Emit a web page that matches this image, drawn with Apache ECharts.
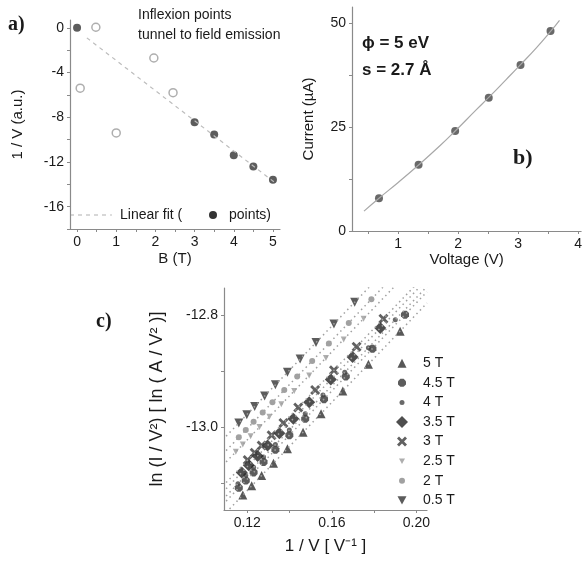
<!DOCTYPE html>
<html>
<head>
<meta charset="utf-8">
<script src="https://cdn.jsdelivr.net/npm/echarts@6/dist/echarts.min.js"></script>
<style>
  html, body { margin: 0; background: #fff; }
  #main { width: 585px; height: 562px; }
</style>
</head>
<body>
<div id="main"></div>
<script>
// a) 1/V vs B
const aFilled = [[0, 0], [3, -8.45], [3.5, -9.55], [4, -11.4], [4.5, -12.4], [5, -13.6]]
const aOpen = [[0.08, -5.4], [0.48, 0.05], [1, -9.4], [1.96, -2.7], [2.45, -5.8]]
const aFit = [[0.25, -0.9], [5.05, -13.85]]
const aXLabels = [0, 1, 2, 3, 4, 5]
const aXTicks = [0, 0.5, 1, 1.5, 2, 2.5, 3, 3.5, 4, 4.5, 5]
const aYLabels = [-16, -12, -8, -4, 0]
const aYTicks = [-18, -16, -14, -12, -10, -8, -6, -4, -2, 0]

// b) I-V
const bVoltage = [0.68, 1.34, 1.95, 2.51, 3.04, 3.54]
const bCurrent = [7.9, 16.0, 24.1, 32.1, 40.0, 48.2]
const bCurveV = [0.43, 0.68, 1.0, 1.34, 1.7, 1.95, 2.3, 2.51, 2.8, 3.04, 3.3, 3.54, 3.69]
const bCurveI = [4.8, 7.9, 11.7, 15.9, 20.6, 24.1, 29.2, 32.2, 36.5, 40.1, 44.1, 48.1, 50.8]
const bXLabels = [1, 2, 3, 4]
const bXTicks = [0.5, 1, 1.5, 2, 2.5, 3, 3.5, 4]
const bYLabels = [0, 25, 50]
const bYTicks = [0, 12.5, 25, 37.5, 50]

// c) Fowler-Nordheim plot
const cNames = ['5 T', '4.5 T', '4 T', '3.5 T', '3 T', '2.5 T', '2 T', '0.5 T']
const cX = [
  [0.1179, 0.1221, 0.1268, 0.1324, 0.1390, 0.1464, 0.1549, 0.1652, 0.1773, 0.1923],
  [0.1160, 0.1193, 0.1230, 0.1277, 0.1333, 0.1399, 0.1474, 0.1563, 0.1666, 0.1792, 0.1946],
  [0.1156, 0.1193, 0.1230, 0.1277, 0.1333, 0.1399, 0.1474, 0.1558, 0.1661, 0.1773, 0.1900],
  [0.1174, 0.1207, 0.1249, 0.1296, 0.1352, 0.1418, 0.1493, 0.1595, 0.1698, 0.1829],
  [0.1202, 0.1235, 0.1268, 0.1315, 0.1371, 0.1441, 0.1521, 0.1610, 0.1717, 0.1844],
  [0.1146, 0.1179, 0.1216, 0.1258, 0.1305, 0.1361, 0.1422, 0.1493, 0.1572, 0.1656, 0.1750],
  [0.1160, 0.1193, 0.1230, 0.1273, 0.1319, 0.1375, 0.1436, 0.1507, 0.1586, 0.1680, 0.1787],
  [0.1160, 0.1198, 0.1235, 0.1282, 0.1333, 0.1390, 0.1450, 0.1525, 0.1610, 0.1708]
]
const cY = [
  [-13.1214, -13.1048, -13.0864, -13.0644, -13.0386, -13.0092, -12.9761, -12.9356, -12.8878, -12.8290],
  [-13.1085, -13.0956, -13.0809, -13.0625, -13.0405, -13.0147, -12.9853, -12.9503, -12.9099, -12.8602, -12.7996],
  [-13.1011, -13.0864, -13.0717, -13.0533, -13.0313, -13.0055, -12.9761, -12.9430, -12.9025, -12.8584, -12.8087],
  [-13.0809, -13.0680, -13.0515, -13.0331, -13.0110, -12.9853, -12.9559, -12.9154, -12.8749, -12.8235],
  [-13.0588, -13.0460, -13.0331, -13.0147, -12.9926, -12.9651, -12.9338, -12.8989, -12.8566, -12.8069],
  [-13.0441, -13.0313, -13.0166, -13.0000, -12.9816, -12.9595, -12.9356, -12.9081, -12.8768, -12.8437, -12.8069],
  [-13.0184, -13.0055, -12.9908, -12.9743, -12.9559, -12.9338, -12.9099, -12.8823, -12.8510, -12.8143, -12.7720],
  [-12.9926, -12.9779, -12.9632, -12.9448, -12.9246, -12.9025, -12.8786, -12.8492, -12.8161, -12.7775]
]
// dotted fit lines, start / end
const cFitX = [0.110, 0.205]
const cFitY = [
  [-13.1525, -12.7789],
  [-13.1322, -12.7587],
  [-13.1230, -12.7495],
  [-13.1101, -12.7366],
  [-13.0991, -12.7256],
  [-13.0623, -12.6888],
  [-13.0421, -12.6686],
  [-13.0164, -12.6430]
]
const cXLabels = [0.12, 0.16, 0.20]
const cXTicks = [0.12, 0.14, 0.16, 0.18, 0.20]
const cYLabels = [-13.0, -12.8]
const cYTicks = [-13.1, -13.0, -12.9, -12.8]

const FONT = '"Liberation Sans", Arial, sans-serif'
const SERIF = '"Liberation Serif", "Times New Roman", serif'
const AXIS_COLOR = '#8a8a8a'
const TEXT_COLOR = '#1a1a1a'

// marker shapes
const octagon = 'path://M3,0L7,0L10,3L10,7L7,10L3,10L0,7L0,3Z'
const crossX = 'path://M0,2L2,0L5,3L8,0L10,2L7,5L10,8L8,10L5,7L2,10L0,8L3,5Z'
const downTri = 'path://M0,0L10,0L5,9Z'
const cStyle = {
  '5 T': { symbol: 'triangle', size: 9, color: '#2e2e2e' },
  '4.5 T': { symbol: octagon, size: 8, color: '#333' },
  '4 T': { symbol: 'circle', size: 5, color: '#444' },
  '3.5 T': { symbol: 'diamond', size: 12, color: '#222' },
  '3 T': { symbol: crossX, size: 10, color: '#3a3a3a' },
  '2.5 T': { symbol: downTri, size: 6, color: '#9a9a9a' },
  '2 T': { symbol: 'circle', size: 6, color: '#8a8a8a' },
  '0.5 T': { symbol: downTri, size: 9, color: '#333' }
}

function axis (gridIndex, min, max, labels, ticks, digits, name, nameGap, vertical, nameSize) {
  return {
    type: 'value',
    gridIndex,
    min,
    max,
    name,
    nameLocation: 'middle',
    nameGap,
    nameRotate: vertical ? 90 : 0,
    nameTextStyle: { color: TEXT_COLOR, fontSize: nameSize || 15, fontFamily: FONT },
    axisLine: { onZero: false, lineStyle: { color: AXIS_COLOR, width: 1.2 } },
    axisTick: { customValues: ticks, length: 3, lineStyle: { color: AXIS_COLOR } },
    axisLabel: {
      customValues: labels,
      color: TEXT_COLOR,
      fontSize: 14,
      fontFamily: FONT,
      margin: 6,
      formatter: (v) => v.toFixed(digits)
    },
    splitLine: { show: false }
  }
}

const chart = echarts.init(document.getElementById('main'))

const series = [
  // a)
  {
    type: 'line',
    xAxisIndex: 0,
    yAxisIndex: 0,
    data: aFit,
    symbol: 'none',
    lineStyle: { color: '#bdbdbd', width: 1.2, type: [4, 4] }
  },
  {
    type: 'scatter',
    xAxisIndex: 0,
    yAxisIndex: 0,
    data: aOpen,
    symbol: 'circle',
    symbolSize: 8,
    itemStyle: { color: '#fff', borderColor: '#9a9a9a', borderWidth: 1.5 }
  },
  {
    type: 'scatter',
    xAxisIndex: 0,
    yAxisIndex: 0,
    data: aFilled,
    symbolSize: 8,
    itemStyle: { color: '#333' }
  },
  // b)
  {
    type: 'line',
    xAxisIndex: 1,
    yAxisIndex: 1,
    data: bCurveV.map((v, i) => [v, bCurveI[i]]),
    smooth: true,
    symbol: 'none',
    lineStyle: { color: '#a8a8a8', width: 1.2 }
  },
  {
    type: 'scatter',
    xAxisIndex: 1,
    yAxisIndex: 1,
    data: bVoltage.map((v, i) => [v, bCurrent[i]]),
    symbolSize: 8,
    itemStyle: { color: '#444' }
  }
]

// c) fits first so markers sit on top
cNames.forEach((name, i) => {
  series.push({
    type: 'line',
    xAxisIndex: 2,
    yAxisIndex: 2,
    data: cFitX.map((x, k) => [x, cFitY[i][k]]),
    symbol: 'none',
    silent: true,
    clip: true,
    lineStyle: { color: '#a0a0a0', width: 1.5, type: [1.5, 3.5] }
  })
})
cNames.forEach((name, i) => {
  const st = cStyle[name]
  series.push({
    type: 'scatter',
    name,
    xAxisIndex: 2,
    yAxisIndex: 2,
    data: cX[i].map((x, k) => [x, cY[i][k]]),
    symbol: st.symbol,
    symbolSize: st.size,
    itemStyle: { color: st.color }
  })
})

// one legend per entry so each icon keeps its own size
const legends = cNames.map((name, i) => {
  const st = cStyle[name]
  return {
    data: [name],
    left: 402 - st.size / 2,
    top: 362.7 + i * 19.6 - 6.5,
    itemWidth: st.size,
    itemHeight: st.size,
    selectedMode: false,
    padding: 0,
    textStyle: { color: TEXT_COLOR, fontSize: 14, fontFamily: FONT, padding: [0, 0, 0, 16 - st.size / 2] }
  }
})

const txt = (x, y, text, font, extra) => ({
  type: 'text',
  x,
  y,
  style: Object.assign({ text, font, fill: TEXT_COLOR, verticalAlign: 'middle' }, extra || {})
})

chart.setOption({
  animation: false,
  grid: [
    { left: 70, top: 20, width: 210, height: 209 },
    { left: 352, top: 7, width: 233, height: 224 },
    { left: 224, top: 288, width: 203, height: 222 }
  ],
  xAxis: [
    axis(0, -0.18, 5.18, aXLabels, aXTicks, 0, 'B (T)', 22, false),
    axis(1, 0.23, 4.05, bXLabels, bXTicks, 0, 'Voltage (V)', 21, false),
    axis(2, 0.109, 0.205, cXLabels, cXTicks, 2, '1 / V [ V\u207B\u00B9 ]', 28, false, 17)
  ],
  yAxis: [
    axis(0, -18, 0.7, aYLabels, aYTicks, 0, '1 / V (a.u.)', 45, true),
    axis(1, 0, 54, bYLabels, bYTicks, 0, 'Current (\u00B5A)', 36, true),
    axis(2, -13.148, -12.752, cYLabels, cYTicks, 1, 'ln (I / V\u00B2) [ ln ( A / V\u00B2 )]', 58, true, 18)
  ],
  legend: legends,
  series,
  graphic: [
    txt(8, 25, 'a)', 'bold 20px ' + SERIF),
    txt(138, 15, 'Inflexion points', '14px ' + FONT),
    txt(138, 35, 'tunnel to field emission', '14px ' + FONT),
    {
      type: 'line',
      shape: { x1: 70, y1: 215, x2: 112, y2: 215 },
      style: { stroke: '#bdbdbd', lineWidth: 1.2, lineDash: [4, 4] }
    },
    txt(120, 215, 'Linear fit (', '14px ' + FONT),
    { type: 'circle', shape: { cx: 213, cy: 215, r: 4 }, style: { fill: '#333' } },
    txt(229, 215, 'points)', '14px ' + FONT),
    txt(362, 43, '\u03D5 = 5 eV', 'bold 17px ' + FONT),
    txt(362, 70, 's = 2.7 \u00C5', 'bold 17px ' + FONT),
    txt(513, 158, 'b)', 'bold 22px ' + SERIF),
    txt(96, 322, 'c)', 'bold 20px ' + SERIF)
  ]
})
</script>
</body>
</html>
